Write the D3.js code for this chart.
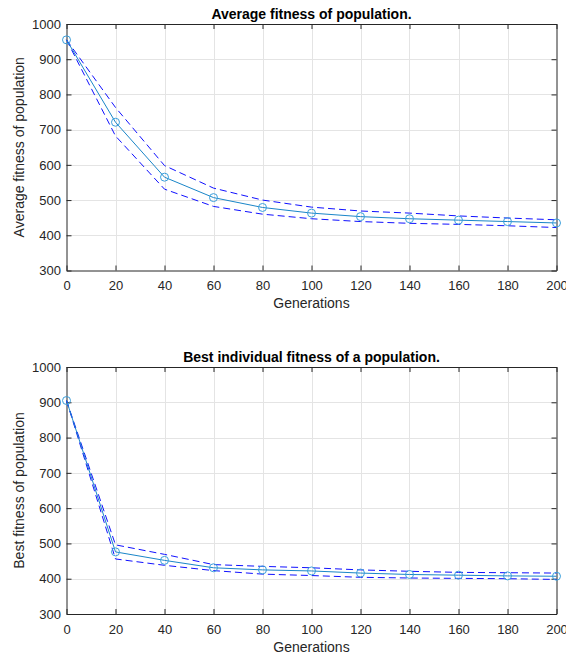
<!DOCTYPE html>
<html>
<head>
<meta charset="utf-8">
<script src="https://cdn.jsdelivr.net/npm/d3@7"></script>
<style>
  html, body { margin: 0; padding: 0; background: #fff; }
  svg { display: block; font-family: "Liberation Sans", Arial, Helvetica, sans-serif; }
</style>
</head>
<body>
<svg id="chart" width="566" height="655"></svg>
<script>
// Generations sampled every 20 steps
const generations = [0, 20, 40, 60, 80, 100, 120, 140, 160, 180, 200];

// Average fitness of the population: mean and the dashed upper/lower band
const avgMean  = [955, 721, 565, 507, 479, 463, 453, 447, 443, 439, 435];
const avgUpper = [955, 763, 598, 534, 500, 480, 469, 463, 455, 449, 444];
const avgLower = [955, 682, 531, 482, 460, 447, 439, 434, 431, 427, 422];

// Best individual fitness: mean and the dashed upper/lower band
const bestMean  = [905, 476, 452, 431, 425, 422, 416, 412, 410, 408, 407];
const bestUpper = [905, 496, 469, 440, 435, 431, 425, 421, 418, 417, 416];
const bestLower = [905, 456, 438, 423, 413, 409, 404, 402, 401, 400, 398];

const xTicks = [0, 20, 40, 60, 80, 100, 120, 140, 160, 180, 200];
const yTicks = [300, 400, 500, 600, 700, 800, 900, 1000];

const panels = [
  { title: "Average fitness of population.", ylabel: "Average fitness of population",
    mean: avgMean, upper: avgUpper, lower: avgLower, top: 24, bottom: 270.5 },
  { title: "Best individual fitness of a population.", ylabel: "Best fitness of population",
    mean: bestMean, upper: bestUpper, lower: bestLower, top: 367, bottom: 614 }
];

const svg = d3.select("#chart");
const left = 66.5, right = 556.5;
const axisColor = "#262626";
const font = "Liberation Sans, Arial, sans-serif";

panels.forEach(p => {
  const x = d3.scaleLinear().domain([0, 200]).range([left, right]);
  const y = d3.scaleLinear().domain([300, 1000]).range([p.bottom, p.top]);
  const g = svg.append("g");

  // grid
  g.append("g").selectAll("line").data(xTicks.slice(1, -1)).join("line")
    .attr("x1", d => Math.round(x(d)) + 0.5).attr("x2", d => Math.round(x(d)) + 0.5)
    .attr("y1", p.top).attr("y2", p.bottom)
    .attr("stroke", "#e4e4e4").attr("stroke-width", 1);
  g.append("g").selectAll("line").data(yTicks.slice(1, -1)).join("line")
    .attr("y1", d => Math.round(y(d)) + 0.5).attr("y2", d => Math.round(y(d)) + 0.5)
    .attr("x1", left).attr("x2", right)
    .attr("stroke", "#e4e4e4").attr("stroke-width", 1);

  // axes with inward ticks on all four sides
  const fmt = d3.format("d");
  const ax = [
    d3.axisBottom(x).tickValues(xTicks).tickSizeInner(-5).tickSizeOuter(0).tickPadding(10.5).tickFormat(fmt),
    d3.axisTop(x).tickValues(xTicks).tickSizeInner(-5).tickSizeOuter(0).tickFormat(""),
    d3.axisLeft(y).tickValues(yTicks).tickSizeInner(-5).tickSizeOuter(0).tickPadding(5.5).tickFormat(fmt),
    d3.axisRight(y).tickValues(yTicks).tickSizeInner(-5).tickSizeOuter(0).tickFormat("")
  ];
  const pos = [
    `translate(0,${p.bottom})`, `translate(0,${p.top})`,
    `translate(${left},0)`, `translate(${right},0)`
  ];
  ax.forEach((a, i) => {
    const ag = g.append("g").attr("transform", pos[i]).call(a);
    ag.attr("font-family", font).attr("font-size", 13);
    ag.select(".domain").attr("stroke", axisColor).attr("stroke-width", 1);
    ag.selectAll(".tick line").attr("stroke", axisColor);
    ag.selectAll(".tick text").attr("fill", axisColor);
  });

  // dashed band
  const line = d3.line().x((d, i) => x(generations[i])).y(d => y(d));
  [p.upper, p.lower].forEach(s => {
    g.append("path").datum(s).attr("d", line)
      .attr("fill", "none").attr("stroke", "#1010ff").attr("stroke-width", 1)
      .attr("stroke-dasharray", "7,4");
  });

  // mean line with circle markers
  g.append("path").datum(p.mean).attr("d", line)
    .attr("fill", "none").attr("stroke", "#1a86c8").attr("stroke-width", 1);
  g.append("g").selectAll("circle").data(p.mean).join("circle")
    .attr("cx", (d, i) => x(generations[i])).attr("cy", d => y(d)).attr("r", 4)
    .attr("fill", "none").attr("stroke", "#3a9fdc").attr("stroke-width", 1);

  // title
  g.append("text").attr("x", (left + right) / 2).attr("y", p.top - 5.5)
    .attr("text-anchor", "middle").attr("font-weight", "bold").attr("font-size", "14px")
    .attr("fill", "#000").text(p.title);

  // x label
  g.append("text").attr("x", (left + right) / 2).attr("y", p.bottom + 37.5)
    .attr("text-anchor", "middle").attr("font-size", "14px").attr("fill", axisColor)
    .text("Generations");

  // y label
  g.append("text")
    .attr("transform", `translate(24,${(p.top + p.bottom) / 2}) rotate(-90)`)
    .attr("text-anchor", "middle").attr("font-size", "14px").attr("fill", axisColor)
    .text(p.ylabel);
});
</script>
</body>
</html>
